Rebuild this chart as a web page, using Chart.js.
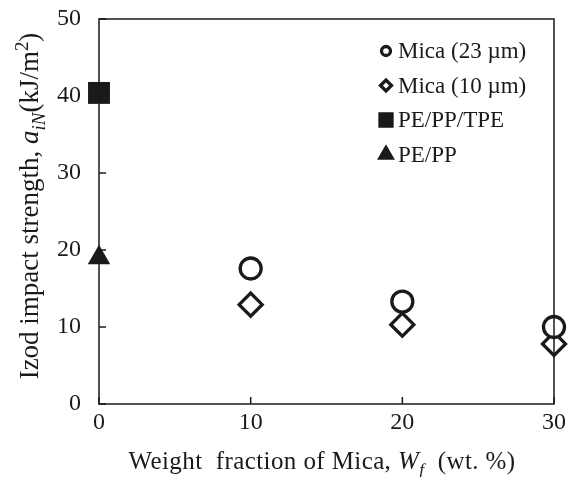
<!DOCTYPE html>
<html>
<head>
<meta charset="utf-8">
<script src="https://cdn.jsdelivr.net/npm/chart.js@4/dist/chart.umd.min.js"></script>
<style>
  body { margin: 0; background: #fff; }
  #wrap { width: 580px; height: 477px; }
</style>
</head>
<body>
<div id="wrap"><canvas id="grafico"></canvas></div>
<script>
const fracoes = [10, 20, 30];
const mica23 = [17.6, 13.3, 10.0];
const mica10 = [12.9, 10.3, 7.8];
const pePpTpe = [40.4];
const pePp = [19.0];
const rotulos = ["Mica (23 \u00b5m)", "Mica (10 \u00b5m)", "PE/PP/TPE", "PE/PP"];
const yTicks = [0, 10, 20, 30, 40, 50];
const xTicks = [0, 10, 20, 30];

const SERIF = "'Liberation Serif', 'Times New Roman', serif";

function pontos(xs, ys) {
  return ys.map((y, i) => ({ x: xs[i], y: y }));
}

// desenha texto com partes em itálico / subscrito / sobrescrito
function desenharPartes(ctx, partes, x, y, tam, esp) {
  ctx.letterSpacing = (esp || 0) + "px";
  let total = 0;
  partes.forEach((p) => {
    const t = p.sub || p.sup ? tam * 0.7 : tam;
    ctx.font = (p.it ? "italic " : "") + t + "px " + SERIF;
    p.w = ctx.measureText(p.t).width;
    total += p.w;
  });
  let cx = x - total / 2;
  partes.forEach((p) => {
    const t = p.sub || p.sup ? tam * 0.7 : tam;
    ctx.font = (p.it ? "italic " : "") + t + "px " + SERIF;
    let dy = 0;
    if (p.sub) dy = tam * 0.25;
    if (p.sup) dy = -tam * 0.38;
    ctx.fillText(p.t, cx, y + dy);
    cx += p.w;
  });
  ctx.letterSpacing = "0px";
}

const moldura = {
  id: "moldura",
  afterDraw(chart) {
    const ctx = chart.ctx;
    const a = chart.chartArea;
    const sx = chart.scales.x;
    const sy = chart.scales.y;
    ctx.save();
    ctx.strokeStyle = "#1a1a1a";
    ctx.lineWidth = 1.5;
    ctx.strokeRect(a.left, a.top, a.right - a.left, a.bottom - a.top);
    ctx.beginPath();
    yTicks.forEach((v) => {
      const py = sy.getPixelForValue(v);
      ctx.moveTo(a.left, py);
      ctx.lineTo(a.left + 7, py);
    });
    xTicks.forEach((v) => {
      const px = sx.getPixelForValue(v);
      ctx.moveTo(px, a.bottom);
      ctx.lineTo(px, a.bottom - 7);
    });
    ctx.stroke();

    // títulos dos eixos
    ctx.fillStyle = "#1a1a1a";
    ctx.textBaseline = "alphabetic";
    ctx.textAlign = "left";
    desenharPartes(ctx, [
      { t: "Weight  fraction of Mica, " },
      { t: "W", it: true },
      { t: "f", it: true, sub: true },
      { t: "  (wt. %)" },
    ], 322, 469, 25, 0.4);

    ctx.save();
    ctx.translate(38, 206);
    ctx.rotate(-Math.PI / 2);
    desenharPartes(ctx, [
      { t: "Izod impact strength, " },
      { t: "a", it: true },
      { t: "iN", it: true, sub: true },
      { t: "(kJ/m" },
      { t: "2", sup: true },
      { t: ")" },
    ], 0, 0, 27, 0);
    ctx.restore();

    // legenda
    const lx = 386;
    const ly0 = 51;
    const passo = 34.5;
    chart.data.datasets.forEach((ds, i) => {
      const py = ly0 + i * passo;
      ctx.lineWidth = 3.3;
      ctx.strokeStyle = "#1a1a1a";
      ctx.fillStyle = ds.pointBackgroundColor;
      Chart.helpers.drawPoint(ctx, {
        pointStyle: ds.pointStyle,
        radius: ds.legendRadius,
        borderWidth: 3.3,
        rotation: 0,
      }, lx, py);
      ctx.fillStyle = "#1a1a1a";
      ctx.font = "23px " + SERIF;
      ctx.textBaseline = "middle";
      ctx.textAlign = "left";
      ctx.fillText(ds.label, lx + 12, py + 1);
    });
    ctx.restore();
  },
};

new Chart(document.getElementById("grafico"), {
  type: "scatter",
  data: {
    datasets: [
      {
        label: rotulos[0],
        data: pontos(fracoes, mica23),
        pointStyle: "circle",
        pointRadius: 10.5,
        pointBorderWidth: 3.3,
        pointBorderColor: "#1a1a1a",
        pointBackgroundColor: "#fff",
        legendRadius: 4.5,
      },
      {
        label: rotulos[1],
        data: pontos(fracoes, mica10),
        pointStyle: "rectRot",
        pointRadius: 11.5,
        pointBorderWidth: 3.3,
        pointBorderColor: "#1a1a1a",
        pointBackgroundColor: "#fff",
        legendRadius: 5.5,
      },
      {
        label: rotulos[2],
        data: pontos([0], pePpTpe),
        pointStyle: "rect",
        pointRadius: 15.5,
        pointBorderWidth: 0,
        pointBorderColor: "#1a1a1a",
        pointBackgroundColor: "#1a1a1a",
        legendRadius: 8.5,
      },
      {
        label: rotulos[3],
        data: pontos([0], pePp),
        pointStyle: "triangle",
        pointRadius: 13,
        pointBorderWidth: 0,
        pointBorderColor: "#1a1a1a",
        pointBackgroundColor: "#1a1a1a",
        legendRadius: 7,
      },
    ],
  },
  options: {
    responsive: true,
    maintainAspectRatio: false,
    animation: false,
    clip: false,
    layout: { padding: { top: 19, right: 26, left: 0, bottom: 0 } },
    plugins: {
      legend: { display: false },
      tooltip: { enabled: false },
    },
    scales: {
      x: {
        type: "linear",
        min: 0,
        max: 30,
        afterBuildTicks: (s) => { s.ticks = xTicks.map((v) => ({ value: v })); },
        afterFit: (s) => {
          s.height = 73;
          s.paddingLeft = 0;
          s.paddingRight = 0;
        },
        grid: { display: false },
        border: { display: false },
        ticks: {
          color: "#1a1a1a",
          padding: -4,
          font: { family: SERIF, size: 24 },
        },
      },
      y: {
        min: 0,
        max: 50,
        afterBuildTicks: (s) => { s.ticks = yTicks.map((v) => ({ value: v })); },
        afterFit: (s) => {
          s.width = 99;
          s.paddingTop = 0;
          s.paddingBottom = 0;
        },
        grid: { display: false },
        border: { display: false },
        ticks: {
          color: "#1a1a1a",
          padding: 10,
          font: { family: SERIF, size: 24 },
        },
      },
    },
  },
  plugins: [moldura],
});
</script>
</body>
</html>
